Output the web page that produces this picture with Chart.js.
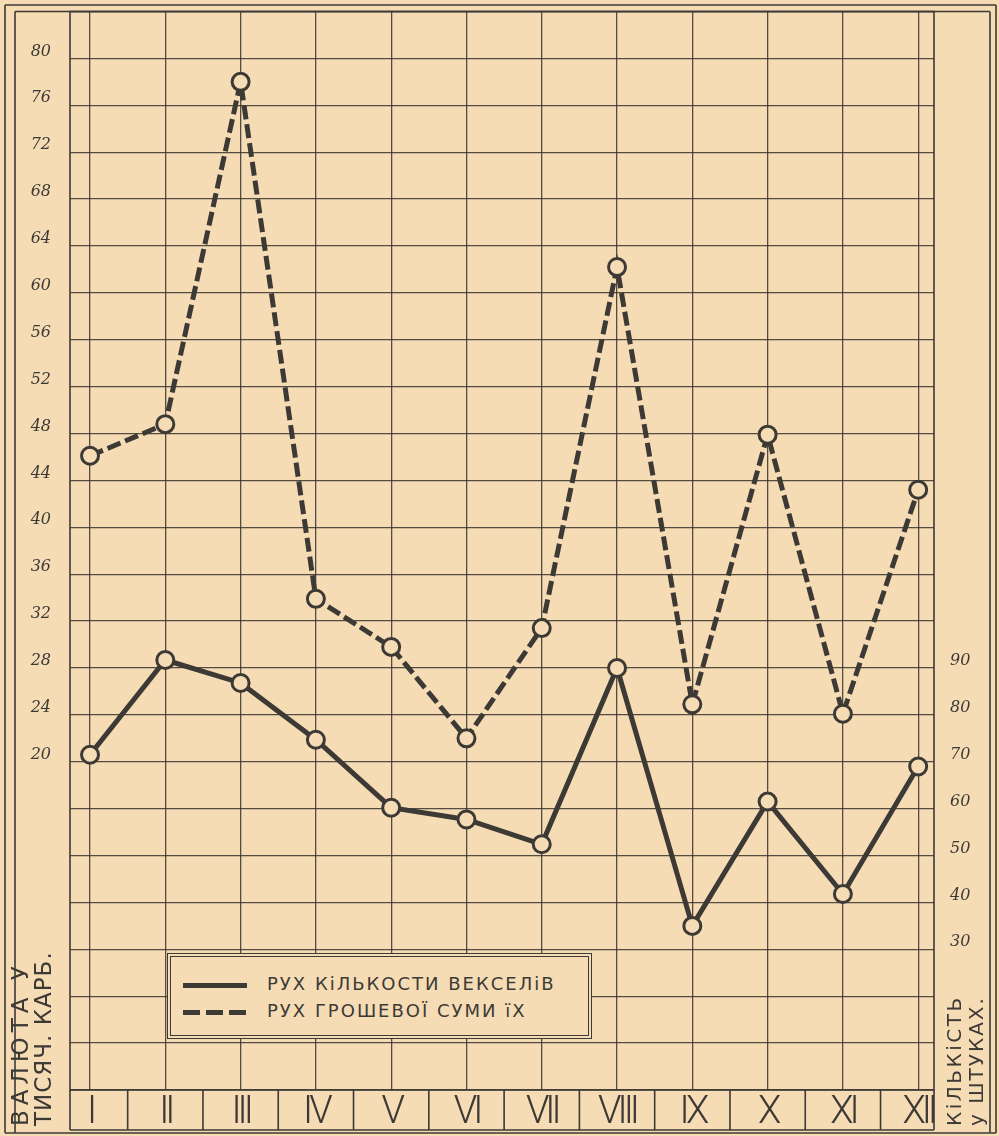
<!DOCTYPE html>
<html>
<head>
<meta charset="utf-8">
<script src="https://cdn.jsdelivr.net/npm/chart.js@4.4.1/dist/chart.umd.min.js"></script>
<style>
    body { margin: 0; background: #f5dcb5; }
    #wrap { position: relative; width: 999px; height: 1136px; }
    #legend {
        position: absolute; left: 167px; top: 953px; width: 417px; height: 78px;
        background: #f5dcb5; border: 4px double #3d3a36;
        font-family: 'DejaVu Sans', sans-serif; font-size: 18px; color: #3d3a36; letter-spacing: 2px;
    }
    .row { position: absolute; left: 12px; height: 22px; line-height: 22px; white-space: nowrap; }
    .sample { display: inline-block; width: 64px; height: 5px; vertical-align: middle; margin-right: 20px; }
    .ytitle {
        position: absolute; transform: rotate(-90deg); transform-origin: top left;
        font-family: 'DejaVu Sans', sans-serif; font-size: 20px; color: #3d3a36; white-space: nowrap;
    }
</style>
</head>
<body>
<div id="wrap">
    <canvas id="chart"></canvas>
    <div id="legend"></div>
    <div class="ytitle" id="leftTitle" style="left:9px; top:1126px; line-height:23px; font-size:23px;"></div>
    <div class="ytitle" id="rightTitle" style="left:943px; top:1126px; line-height:22px; font-size:20px;"></div>
</div>
<script>
    // місяці
    const months = ['I', 'II', 'III', 'IV', 'V', 'VI', 'VII', 'VIII', 'IX', 'X', 'XI', 'XII'];
    // грошова сума (тисяч карб.)
    const moneySum = [46.1, 48.8, 78.0, 33.9, 29.8, 22.0, 31.4, 62.2, 24.9, 47.9, 24.1, 43.2];
    // кількість векселів (штук)
    const billCount = [71.5, 91.7, 86.8, 74.7, 60.2, 57.7, 52.4, 90.0, 35.0, 61.5, 41.8, 69.0];
    const leftTickLabels = [20, 24, 28, 32, 36, 40, 44, 48, 52, 56, 60, 64, 68, 72, 76, 80];
    const rightTickLabels = [30, 40, 50, 60, 70, 80, 90];
    const seriesNames = ['РУХ КіЛЬКОСТИ ВЕКСЕЛіВ', 'РУХ ГРОШЕВОЇ СУМИ їХ'];
    const leftTitle = ['ВАЛЮТА У', 'ТИСЯЧ. КАРБ.'];
    const rightTitle = ['КіЛЬКіСТЬ', 'у ШТУКАХ.'];

    const ink = '#3d3a36';
    const paper = '#f5dcb5';
    const gridInk = 'rgba(55, 50, 45, 0.85)';

    // легенда
    const legend = document.getElementById('legend');
    legend.innerHTML = `
        <div class="row" style="top:16px"><span class="sample" style="background:${ink}"></span>${seriesNames[0]}</div>
        <div class="row" style="top:43px"><span class="sample" style="background:repeating-linear-gradient(to right, ${ink} 0 17px, transparent 17px 23px)"></span>${seriesNames[1]}</div>
    `;
    document.getElementById('leftTitle').innerHTML =
        `<span style="letter-spacing:5px">${leftTitle[0]}</span><br><span style="letter-spacing:1px">${leftTitle[1]}</span>`;
    document.getElementById('rightTitle').innerHTML =
        `<span style="letter-spacing:2.5px">${rightTitle[0]}</span><br><span style="letter-spacing:2px">${rightTitle[1]}</span>`;

    function noPad(s) {
        s.paddingTop = 0; s.paddingBottom = 0; s.paddingLeft = 0; s.paddingRight = 0;
    }

    // рамки і рядок місяців
    const framePlugin = {
        id: 'frame',
        beforeDraw(chart) {
            const c = chart.ctx;
            c.save();
            c.fillStyle = paper;
            c.fillRect(0, 0, chart.width, chart.height);
            c.restore();
        },
        afterDatasetsDraw(chart) {
            // вузькі римські цифри
            chart.ctx.letterSpacing = '-4px';
        },
        afterDraw(chart) {
            const c = chart.ctx;
            c.letterSpacing = '0px';
            const a = chart.chartArea;
            const xs = chart.scales.x;
            const rowBottom = chart.height - 6;
            c.save();
            c.strokeStyle = ink;
            c.lineWidth = 1.6;
            c.strokeRect(a.left, a.top, a.right - a.left, a.bottom - a.top);
            c.beginPath();
            c.moveTo(a.left, a.bottom); c.lineTo(a.left, rowBottom);
            c.moveTo(a.right, a.bottom); c.lineTo(a.right, rowBottom);
            c.moveTo(a.left, rowBottom); c.lineTo(a.right, rowBottom);
            for (let i = 0; i < months.length - 1; i++) {
                const x = xs.getPixelForValue(i + 0.5);
                c.moveTo(x, a.bottom); c.lineTo(x, rowBottom);
            }
            // зовнішня рамка
            c.moveTo(5, 5); c.lineTo(chart.width - 3, 5);
            c.moveTo(5, 5); c.lineTo(5, chart.height - 3);
            c.moveTo(15, a.top); c.lineTo(15, chart.height - 3);
            c.moveTo(5, chart.height - 3); c.lineTo(chart.width - 3, chart.height - 3);
            c.moveTo(chart.width - 3, 5); c.lineTo(chart.width - 3, chart.height - 3);
            c.moveTo(chart.width - 9, a.top); c.lineTo(chart.width - 9, chart.height - 3);
            c.moveTo(15, a.top); c.lineTo(chart.width - 9, a.top);
            c.stroke();
            c.restore();
        }
    };

    const ctx = document.getElementById('chart').getContext('2d');
    new Chart(ctx, {
        type: 'line',
        data: {
            datasets: [{
                label: seriesNames[0],
                data: billCount.map((v, i) => ({ x: i, y: v })),
                yAxisID: 'y1',
                borderColor: ink,
                borderWidth: 5,
                pointRadius: 8.5,
                pointBorderWidth: 3,
                pointBorderColor: ink,
                pointBackgroundColor: paper,
                tension: 0
            }, {
                label: seriesNames[1],
                data: moneySum.map((v, i) => ({ x: i, y: v })),
                yAxisID: 'y',
                borderColor: ink,
                borderWidth: 5,
                borderDash: [14, 5],
                pointRadius: 8.5,
                pointBorderWidth: 3,
                pointBorderColor: ink,
                pointBackgroundColor: paper,
                tension: 0
            }]
        },
        options: {
            responsive: true,
            maintainAspectRatio: false,
            animation: false,
            layout: { padding: { top: 11, left: 0, right: 0, bottom: 0 } },
            plugins: { legend: { display: false }, tooltip: { enabled: false } },
            scales: {
                x: {
                    type: 'linear',
                    min: -0.266,
                    max: 11.21,
                    afterBuildTicks: s => { s.ticks = months.map((m, i) => ({ value: i })); },
                    afterFit: s => { s.height = 46; noPad(s); },
                    grid: { color: gridInk, lineWidth: 1.3, drawTicks: false },
                    border: { display: false },
                    ticks: {
                        z: 1,
                        autoSkip: false,
                        maxRotation: 0,
                        padding: 1,
                        color: ink,
                        font: { family: "Roboto, 'Liberation Sans', sans-serif", size: 38, weight: 300 },
                        callback: v => months[v]
                    }
                },
                y: {
                    position: 'left',
                    min: -8,
                    max: 84,
                    afterBuildTicks: s => {
                        const t = [];
                        for (let v = -8; v <= 84; v += 4) t.push({ value: v });
                        s.ticks = t;
                    },
                    afterFit: s => { s.width = 70; noPad(s); },
                    grid: { color: gridInk, lineWidth: 1.3, drawTicks: false },
                    border: { display: false },
                    ticks: {
                        padding: 19,
                        labelOffset: -7,
                        color: ink,
                        font: { family: "'DejaVu Serif', serif", size: 16, style: 'italic' },
                        callback: v => leftTickLabels.includes(v) ? v : ''
                    }
                },
                y1: {
                    position: 'right',
                    min: 0,
                    max: 230,
                    afterBuildTicks: s => {
                        const t = [];
                        for (let v = 0; v <= 230; v += 10) t.push({ value: v });
                        s.ticks = t;
                    },
                    afterFit: s => { s.width = 65; noPad(s); },
                    grid: { drawOnChartArea: false, drawTicks: false },
                    border: { display: false },
                    ticks: {
                        padding: 16,
                        labelOffset: -7,
                        color: ink,
                        font: { family: "'DejaVu Serif', serif", size: 16, style: 'italic' },
                        callback: v => rightTickLabels.includes(v) ? v : ''
                    }
                }
            }
        },
        plugins: [framePlugin]
    });
</script>
</body>
</html>
